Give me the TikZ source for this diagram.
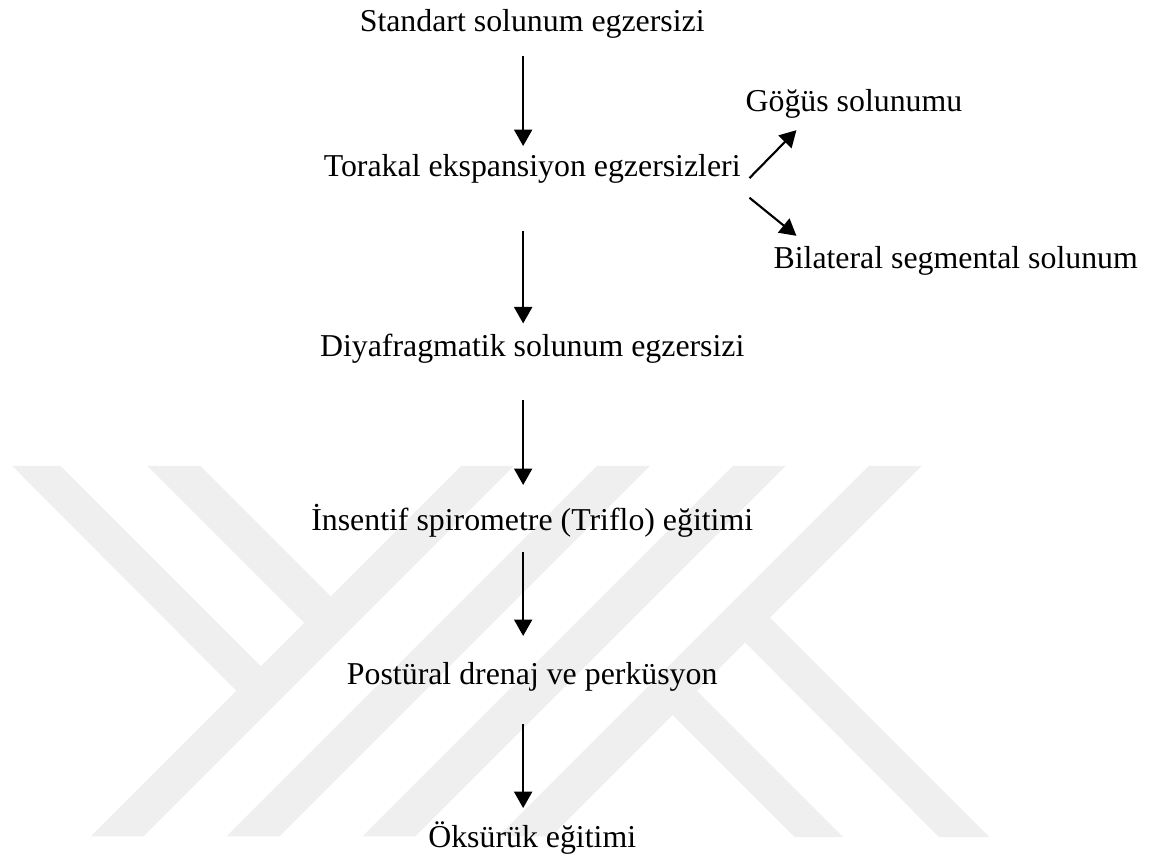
\documentclass[tikz,border=0pt]{standalone}
\usepackage{fontspec}
\setmainfont{Liberation Serif}
\usetikzlibrary{arrows.meta}
\definecolor{bandgray}{RGB}{239,239,239}

\begin{document}
\begin{tikzpicture}[
	txt/.style={anchor=base, inner sep=0pt, text height=0.68em, text depth=0.22em, font=\fontsize{12}{14}\selectfont},
	flow/.style={-{Triangle[length=6.2pt,width=6.8pt]}, line width=0.8pt},
	band/.style={fill=bandgray}
]
	\useasboundingbox (0,0) rectangle (15.26,-11.42);

	% watermark in the background
	\foreach \s in {0,1.8,3.6,5.4}
		\fill[band] (6.11+\s,-6.17) -- ++(0.7,0) -- ++(-4.91,-4.91) -- ++(-0.7,0) -- cycle;
	\fill[band] (0.16,-6.17) -- (0.80,-6.17) -- (3.61,-8.98) -- (3.28,-9.30) -- cycle;
	\fill[band] (1.95,-6.17) -- (2.65,-6.17) -- (4.53,-8.05) -- (4.18,-8.40) -- cycle;
	\fill[band] (10.53,-11.09) -- (11.17,-11.09) -- (9.08,-9.00) -- (8.76,-9.32) -- cycle;
	\fill[band] (12.44,-11.09) -- (13.11,-11.09) -- (10.05,-8.03) -- (9.72,-8.36) -- cycle;

	\node[txt] (std) at (7.05,-0.42) {Standart solunum egzersizi};
	\node[txt] (tor) at (7.05,-2.34) {Torakal ekspansiyon egzersizleri};
	\node[txt,anchor=base west] (gog) at (9.87,-1.48) {Göğüs solunumu};
	\node[txt,anchor=base west] (bil) at (10.24,-3.55) {Bilateral segmental solunum};
	\node[txt] (diy) at (7.05,-4.72) {Diyafragmatik solunum egzersizi};
	\node[txt] (ins) at (7.05,-7.03) {İnsentif spirometre (Triflo) eğitimi};
	\node[txt] (pos) at (7.05,-9.07) {Postüral drenaj ve perküsyon};
	\node[txt] (oks) at (7.05,-11.23) {Öksürük eğitimi};

	\foreach \a/\b/\s/\t in {std/tor/0.24cm/0.16cm, tor/diy/0.64cm/0.19cm, diy/ins/0.49cm/0.36cm, ins/pos/0.2cm/0.4cm, pos/oks/0.44cm/0.28cm}
		\draw[flow, shorten <=\s, shorten >=\t] ([xshift=-0.12cm]\a.south) -- ([xshift=-0.12cm]\b.north);

	\draw[flow] ([shift={(0.11,-0.1)}]tor.east) -- ([shift={(0.68,-0.16)}]gog.south west);
	\draw[flow] ([shift={(0.11,-0.36)}]tor.east) -- ([shift={(0.31,0.18)}]bil.north west);
\end{tikzpicture}
\end{document}
